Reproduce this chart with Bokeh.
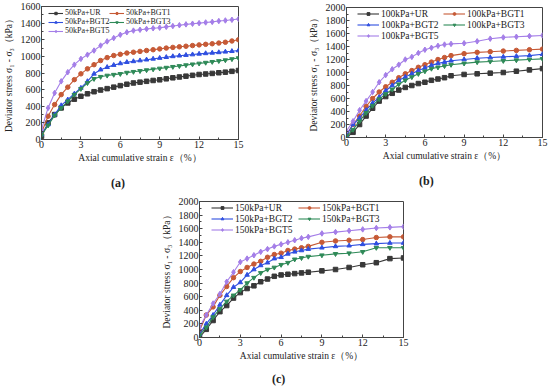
from bokeh.plotting import figure
from bokeh.layouts import column, row
from bokeh.models import Range1d, SingleIntervalTicker, Legend, LegendItem, Spacer, Div
from bokeh.embed import file_html
from bokeh.resources import INLINE

FONT = "Liberation Serif"

# ---------------- data ----------------
xa = [0, 0.5, 1, 1.5, 2, 2.5, 3, 3.5, 4, 4.5, 5, 5.5, 6, 6.5, 7, 7.5, 8, 8.5, 9, 9.5,
      10, 10.5, 11, 11.5, 12, 12.5, 13, 13.5, 14, 14.5, 15]
a_ur = [40, 200, 300, 380, 440, 485, 520, 550, 575, 595, 612, 630, 648, 665, 680, 690, 700, 710, 718, 730,
        742, 752, 762, 772, 782, 788, 795, 803, 810, 820, 830]
a_bgt1 = [80, 280, 420, 540, 630, 720, 790, 850, 900, 950, 985, 1010, 1025, 1040, 1050, 1060, 1070, 1080, 1090, 1100,
          1108, 1115, 1122, 1130, 1138, 1145, 1152, 1160, 1170, 1185, 1200]
a_bgt2 = [60, 180, 300, 410, 480, 550, 620, 700, 790, 840, 870, 895, 915, 930, 940, 950, 960, 970, 980, 990,
          1000, 1008, 1015, 1022, 1030, 1036, 1042, 1048, 1055, 1062, 1070]
a_bgt3 = [50, 170, 290, 380, 460, 540, 610, 680, 730, 755, 770, 780, 790, 805, 815, 825, 835, 845, 855, 865,
          875, 885, 895, 905, 915, 925, 935, 945, 955, 968, 980]
a_bgt5 = [120, 380, 560, 700, 810, 900, 970, 1020, 1070, 1130, 1180, 1220, 1260, 1290, 1310, 1320, 1330, 1338, 1345, 1355,
          1365, 1375, 1385, 1393, 1400, 1408, 1415, 1425, 1432, 1440, 1450]

xb = [0, 0.5, 1, 1.5, 2, 2.5, 3, 3.5, 4, 4.5, 5, 5.5, 6, 6.5, 7, 7.5, 8, 9, 10, 11, 12, 13, 14, 15]
b_ur = [0, 80, 200, 330, 450, 560, 630, 680, 730, 770, 800, 830, 850, 880, 900, 920, 950, 970, 980, 990, 1000, 1020, 1040, 1060]
b_bgt1 = [50, 200, 330, 480, 600, 700, 780, 850, 920, 980, 1030, 1080, 1120, 1160, 1200, 1230, 1260, 1290, 1310, 1320, 1330, 1340, 1350, 1360]
b_bgt2 = [30, 200, 300, 420, 530, 620, 720, 800, 880, 930, 980, 1030, 1070, 1110, 1140, 1160, 1180, 1200, 1220, 1230, 1240, 1250, 1260, 1280]
b_bgt3 = [20, 120, 250, 380, 490, 590, 670, 740, 820, 880, 930, 980, 1020, 1060, 1080, 1100, 1120, 1140, 1160, 1170, 1180, 1190, 1200, 1210]
b_bgt5 = [100, 250, 420, 560, 700, 850, 960, 1050, 1120, 1200, 1240, 1300, 1350, 1380, 1410, 1430, 1440, 1450, 1480, 1520, 1540, 1550, 1560, 1570]

xc = [0, 0.5, 1, 1.5, 2, 2.5, 3, 3.5, 4, 4.5, 5, 5.5, 6, 6.5, 7, 7.5, 8, 9, 10, 11, 12, 13, 14, 15]
c_ur = [0, 120, 250, 380, 470, 580, 660, 720, 760, 820, 860, 900, 920, 930, 940, 950, 960, 980, 1000, 1030, 1070, 1100, 1160, 1170]
c_bgt1 = [100, 330, 450, 620, 750, 880, 970, 1030, 1080, 1120, 1180, 1220, 1240, 1280, 1300, 1320, 1340, 1400, 1420, 1430, 1440, 1470, 1480, 1480]
c_bgt2 = [50, 200, 330, 480, 620, 740, 810, 920, 1000, 1060, 1100, 1160, 1180, 1230, 1260, 1280, 1300, 1320, 1340, 1350, 1370, 1380, 1390, 1390]
c_bgt3 = [30, 150, 300, 420, 530, 620, 700, 800, 880, 950, 1000, 1030, 1070, 1100, 1150, 1170, 1190, 1210, 1230, 1240, 1260, 1320, 1320, 1320]
c_bgt5 = [150, 330, 500, 640, 820, 960, 1110, 1160, 1210, 1260, 1300, 1340, 1370, 1400, 1430, 1460, 1480, 1530, 1550, 1570, 1590, 1610, 1620, 1630]

series_names = ["UR", "BGT1", "BGT2", "BGT3", "BGT5"]
colors = ["#383838", "#c65a36", "#2f4fe0", "#2f8a58", "#a47ee8"]
markers = ["square", "circle", "triangle", "inverted_triangle", "diamond"]

X_LABEL = "Axial cumulative strain ε（%）"
Y_LABEL = "Deviator stress σ₁ - σ₃（kPa）"


def make_panel(xs, ys_list, prefix, ymax, width, height, bl, br, bt, bb,
               legend_font, glyph_w, row_h, glyph_h, col_x, top_off):
    p = figure(width=width, height=height, output_backend="svg", toolbar_location=None,
               x_range=Range1d(0, 15), y_range=Range1d(0, ymax),
               min_border_left=bl, min_border_right=br, min_border_top=bt, min_border_bottom=bb)
    fh = height - bt - bb
    p.grid.visible = False
    p.outline_line_color = "#444444"
    p.background_fill_color = "white"
    p.xaxis.ticker = SingleIntervalTicker(interval=3, num_minor_ticks=2)
    p.yaxis.ticker = SingleIntervalTicker(interval=200, num_minor_ticks=2)
    for ax in (p.xaxis[0], p.yaxis[0]):
        ax.axis_line_color = "#444444"
        ax.major_tick_line_color = "#444444"
        ax.minor_tick_line_color = "#444444"
        ax.major_tick_in = 3
        ax.major_tick_out = 0
        ax.minor_tick_in = 2
        ax.minor_tick_out = 0
        ax.major_label_text_font = FONT
        ax.major_label_text_font_size = "10px"
        ax.major_label_text_color = "#222222"
        ax.axis_label_text_font = FONT
        ax.axis_label_text_font_size = "9.5px"
        ax.axis_label_text_font_style = "normal"
        ax.axis_label_text_color = "#222222"
        ax.major_label_standoff = 1
    p.xaxis.axis_label_standoff = 2
    p.yaxis.axis_label_standoff = 4
    p.xaxis.axis_label = X_LABEL
    p.yaxis.axis_label = Y_LABEL

    items = []
    for name, ys, col, mk in zip(series_names, ys_list, colors, markers):
        r1 = p.line(xs, ys, line_color=col, line_width=1.1)
        size = 5.5 if mk == "diamond" else 4.5
        r2 = p.scatter(xs, ys, marker=mk, size=size, fill_color=col, line_color=col)
        items.append(LegendItem(label=prefix + name, renderers=[r1, r2]))

    cols = [[items[0], items[2], items[4]], [items[1], items[3]]]
    for cx, its in zip(col_x, cols):
        y_bottom = fh - top_off - len(its) * row_h
        leg = Legend(items=its, location=(cx, y_bottom), orientation="vertical",
                     label_text_font=FONT, label_text_font_size=legend_font,
                     label_text_color="#222222",
                     glyph_width=glyph_w, glyph_height=glyph_h, label_height=row_h,
                     label_standoff=2, spacing=0, padding=0, margin=0,
                     border_line_color=None, background_fill_alpha=0)
        p.add_layout(leg)
    return p


def tag_div(tag, width, height, pad_top, pad_left):
    html = ('<div style="font-family:\'Liberation Serif\';font-size:12px;font-weight:bold;'
            'color:#222222;line-height:14px;padding-top:%dpx;padding-left:%dpx;">%s</div>'
            % (pad_top, pad_left, tag))
    return Div(text=html, width=width, height=height, margin=0)


pa = make_panel(xa, [a_ur, a_bgt1, a_bgt2, a_bgt3, a_bgt5], "50kPa+", 1600,
                273, 170, 40, 35, 6, 31, "8px", 15, 9, 6, (7, 68), 2)
pb = make_panel(xb, [b_ur, b_bgt1, b_bgt2, b_bgt3, b_bgt5], "100kPa+", 2000,
                275, 170, 73, 6, 7, 33, "9.5px", 22, 11, 7, (11, 97), 1)
pc = make_panel(xc, [c_ur, c_bgt1, c_bgt2, c_bgt3, c_bgt5], "150kPa+", 2000,
                255, 178, 40, 10, 11, 31, "9.5px", 22, 11, 7, (12, 99), 1)

da = tag_div("(a)", 273, 20, 6, 111)
db = tag_div("(b)", 275, 20, 4, 146)
dc = tag_div("(c)", 255, 20, 4, 114)

layout = column(row(column(pa, da), column(pb, db)),
                row(Spacer(width=158, height=10), column(pc, dc)))

open("out.html", "w").write(file_html(layout, INLINE))
